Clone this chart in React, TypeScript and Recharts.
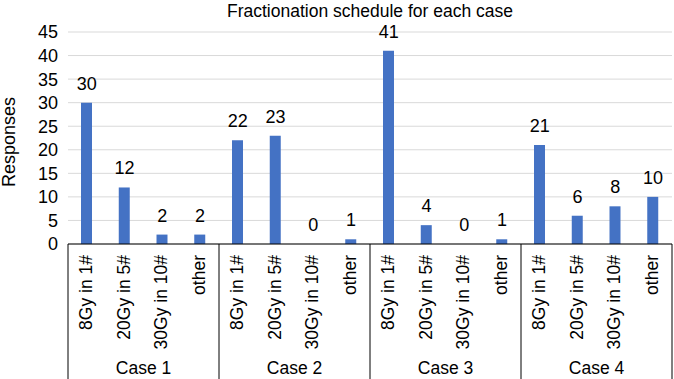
import {ComposedChart, Bar, Line, CartesianGrid, XAxis, YAxis, LabelList} from "recharts";

const cases = ["Case 1", "Case 2", "Case 3", "Case 4"];
const schedules = ["8Gy in 1#", "20Gy in 5#", "30Gy in 10#", "other"];
const case1 = [30, 12, 2, 2];
const case2 = [22, 23, 0, 1];
const case3 = [41, 4, 0, 1];
const case4 = [21, 6, 8, 10];
const yTicks = [0, 5, 10, 15, 20, 25, 30, 35, 40, 45];

const allValues = [case1, case2, case3, case4];

const rows = cases.flatMap((c, ci) =>
    schedules.map((s, si) => ({
        key: `${c}|${s}`,
        caseName: c,
        schedule: s,
        value: allValues[ci][si],
    }))
);

const FONT = "'Liberation Sans', Arial, Helvetica, sans-serif";
const W = 674;
const H = 379;
const LEFT = 68;
const RIGHT = 672;
const BAND = (RIGHT - LEFT) / rows.length;

const CaseTick = (props: any) => {
    const {x, y, index} = props;
    const row = rows[index];
    if (!row) return null;
    const pos = index % 4;
    return (
        <g>
            <text
                transform={`translate(${x + 5},${y + 11}) rotate(-90)`}
                textAnchor="end"
                fontSize={17.5}
                fontFamily={FONT}
                fill="#000"
            >
                {row.schedule}
            </text>
            {pos === 0 && (
                <line x1={x - BAND / 2} y1={y} x2={x - BAND / 2} y2={H} stroke="#000" strokeWidth={1}/>
            )}
            {index === rows.length - 1 && (
                <line x1={x + BAND / 2} y1={y} x2={x + BAND / 2} y2={H} stroke="#000" strokeWidth={1}/>
            )}
            {pos === 1 && (
                <text x={x + BAND / 2} y={y + 130} textAnchor="middle" fontSize={17.5} fontFamily={FONT} fill="#000">
                    {row.caseName}
                </text>
            )}
        </g>
    );
};

export default function App() {
    return (
        <div style={{position: "absolute", left: 0, top: 0, width: W, height: H, background: "#fff"}}>
            <div style={{
                position: "absolute", left: LEFT, width: RIGHT - LEFT, top: 0, textAlign: "center",
                fontFamily: FONT, fontSize: 17.5, lineHeight: "22px", color: "#000",
            }}>
                Fractionation schedule for each case
            </div>
            <ComposedChart
                width={W}
                height={H}
                data={rows}
                margin={{top: 32, right: W - RIGHT, bottom: 0, left: 0}}
                barCategoryGap={0}
            >
                <CartesianGrid vertical={false} stroke="#d9d9d9"/>
                <XAxis
                    dataKey="key"
                    interval={0}
                    height={H - 244}
                    tickLine={false}
                    tickSize={0}
                    tickMargin={0}
                    axisLine={{stroke: "#000"}}
                    tick={<CaseTick/>}
                />
                <YAxis
                    width={LEFT}
                    domain={[0, 45]}
                    ticks={yTicks}
                    interval={0}
                    axisLine={false}
                    tickLine={false}
                    tickMargin={4}
                    tick={{fontSize: 18, fontFamily: FONT, fill: "#000"}}
                    label={{
                        content: () => (
                            <text
                                transform="translate(15,142) rotate(-90)"
                                textAnchor="middle"
                                fontSize={18}
                                fontFamily={FONT}
                                fill="#000"
                            >
                                Responses
                            </text>
                        ),
                    }}
                />
                <Bar dataKey="value" fill="#4472C4" barSize={11} isAnimationActive={false}/>
                <Line
                    dataKey="value"
                    stroke="none"
                    dot={false}
                    activeDot={false}
                    legendType="none"
                    isAnimationActive={false}
                >
                    <LabelList
                        dataKey="value"
                        position="top"
                        offset={13}
                        fontSize={18}
                        fontFamily={FONT}
                        fill="#000"
                    />
                </Line>
            </ComposedChart>
        </div>
    );
}
